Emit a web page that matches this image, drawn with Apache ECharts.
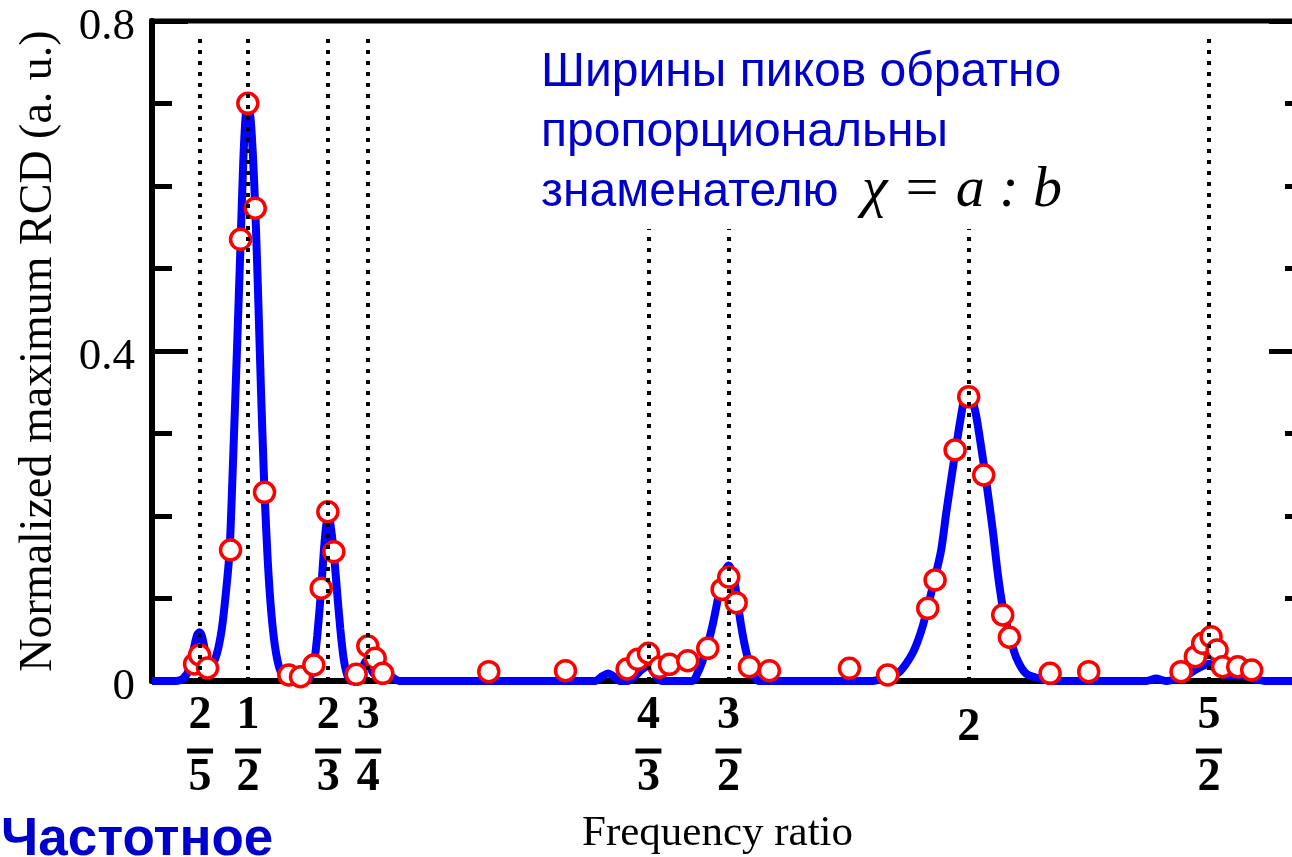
<!DOCTYPE html>
<html><head><meta charset="utf-8">
<script src="https://cdn.jsdelivr.net/npm/echarts@6/dist/echarts.min.js"></script>
<style>html,body{margin:0;padding:0;background:#fff}#c{width:1292px;height:857px}</style>
</head><body><div id="c"></div>
<script>
// theoretical curve (frequency ratio, normalized RCD)
const curveX = [0.30,0.35,0.365,0.378,0.388,0.394,0.399,0.404,0.410,0.417,0.425,0.435,0.445,0.4535,0.4614,0.468,0.475,0.480,0.4843,0.490,0.495,0.4995,0.505,0.510,0.5149,0.520,0.527,0.534,0.541,0.548,0.556,0.565,0.575,0.585,
  0.620,0.630,0.637,0.644,0.652,0.658,0.664,0.667,0.671,0.6785,0.685,0.692,0.699,0.706,0.714,
  0.728,0.737,0.745,0.752,0.760,0.772,0.790,0.802,0.815,
  1.222,1.238,1.249,1.260,1.274,1.29,1.305,1.320,1.333,1.343,1.352,1.362,
  1.425,1.436,1.4464,1.457,1.467,1.481,1.491,1.5005,1.509,1.516,1.526,1.537,1.55,1.564,
  1.80,1.828,1.8556,1.8834,1.904,1.925,1.9425,1.953,1.9634,1.9738,1.9842,1.991,1.998,2.006,2.0154,2.0258,2.036,2.05,2.0603,2.0708,2.0847,2.0986,2.1195,2.154,2.18,
  2.37,2.39,2.41,2.43,2.452,2.473,2.501,2.515,2.5356,2.563,2.598,2.62,2.70];
const curveY = [0,0,0.003,0.015,0.042,0.056,0.059,0.054,0.038,0.022,0.020,0.033,0.062,0.105,0.157,0.255,0.370,0.455,0.530,0.630,0.685,0.700,0.683,0.638,0.573,0.485,0.350,0.232,0.145,0.085,0.042,0.016,0.004,0,
  0,0.006,0.020,0.055,0.110,0.160,0.195,0.201,0.192,0.155,0.110,0.063,0.027,0.008,0,
  0,0.012,0.024,0.020,0.010,0.007,0.008,0.004,0,
  0,0.006,0.009,0.006,0,0,0.006,0.014,0.019,0.012,0.004,0,
  0,0.010,0.025,0.045,0.068,0.108,0.132,0.140,0.130,0.108,0.068,0.035,0.010,0,
  0,0.005,0.011,0.034,0.066,0.114,0.158,0.203,0.244,0.284,0.322,0.342,0.347,0.342,0.322,0.284,0.244,0.183,0.131,0.090,0.056,0.029,0.009,0.002,0,
  0,0.003,0,0.002,0.006,0.014,0.021,0.013,0.007,0.007,0.002,0,0];
// measured points
const pointX = [0.3886,0.399,0.4156, 0.4635,0.4843,0.4995,0.5149,0.5342,
  0.5848,0.6092,0.6368,0.6522,0.666,0.6785, 0.7251,0.7492,0.7646,0.7804,
  1.001,1.1607,1.289,1.3112,1.3334,1.3563,1.3771,1.4152,1.4568,1.4868,1.5005,1.516,1.5435,1.5851,
  1.7517,1.8314,1.9147,1.930,1.9717,2.0,2.0312,2.0708,2.0847,2.1694,2.2498,
  2.442,2.4718,2.487,2.5045,2.517,2.5286,2.56,2.589];
const pointY = [0.0206,0.0315,0.0158, 0.1588,0.5354,0.7002,0.573,0.2287,
  0.0073,0.0052,0.0194,0.1124,0.2052,0.1567, 0.0081,0.0424,0.0275,0.0093,
  0.0113,0.0125,0.0145,0.0263,0.0336,0.0166,0.0202,0.0246,0.0396,0.111,0.126,0.095,0.0173,0.0125,
  0.0154,0.0073,0.0881,0.1224,0.28,0.3446,0.2497,0.08,0.053,0.0093,0.0113,
  0.0113,0.0295,0.0457,0.0537,0.0376,0.0173,0.0173,0.0133];
// rational frequency ratios a:b
const ratioValues = [0.4, 0.5, 2/3, 0.75, 4/3, 1.5, 2, 2.5];
const ratioNum = ['2','1','2','3','4','3','2','5'];
const ratioDen = ['5','2','3','4','3','2','','2'];
const guideTop = [0.785,0.785,0.785,0.785,0.548,0.548,0.548,0.785];
const yTickLabels = ['0','0.4','0.8'];

const serif = "'Liberation Serif','Times New Roman',serif";
const sans = "'Liberation Sans',Arial,sans-serif";
const chart = echarts.init(document.getElementById('c'), null, {renderer:'canvas'});
const curve = curveX.map((x,i)=>[x, curveY[i]]);
const pts = pointX.map((x,i)=>[x, pointY[i]]);
const guides = ratioValues.map((x,i)=>[{coord:[x,0]},{coord:[x,guideTop[i]]}]);

function yAxisCfg(pos, showLabel){
  return {
    type:'value', position:pos, min:0, max:0.8, interval:0.4,
    axisLine:{show:true, lineStyle:{color:'#000', width:6}},
    axisTick:{show:true, inside:true, length:36, lineStyle:{color:'#000', width:5}},
    minorTick:{show:true, splitNumber:4, length:20, lineStyle:{color:'#000', width:5}},
    splitLine:{show:false}, minorSplitLine:{show:false},
    axisLabel:{show:showLabel, fontFamily:serif, fontSize:45, color:'#000', margin:17,
      verticalAlign:'top', lineHeight:12,
      formatter:(v)=>yTickLabels[Math.round(v/0.4)]},
    name: showLabel ? 'Normalized maximum RCD (a. u.)' : '',
    nameLocation:'middle', nameGap:90,
    nameTextStyle:{fontFamily:serif, fontSize:46, color:'#000'}
  };
}

chart.setOption({
  animation:false,
  backgroundColor:'#fff',
  grid:{left:152, top:21, width:1153, height:660, show:true, borderColor:'#000', borderWidth:5,
    backgroundColor:'transparent', outerBoundsMode:'none', containLabel:false},
  xAxis:{
    type:'value', min:0.3, max:2.7,
    axisLine:{show:true, lineStyle:{color:'#000', width:6}},
    axisTick:{show:false}, splitLine:{show:false},
    axisLabel:{
      show:true, customValues:ratioValues, margin:10, color:'#000',
      formatter:(v)=>{
        const i = ratioValues.findIndex(r=>Math.abs(r-v)<1e-6);
        if(i<0) return '';
        return ratioDen[i] ? '{n|'+ratioNum[i]+'}\n{bar|\u00a0}\n{d|'+ratioDen[i]+'}' : '{w|'+ratioNum[i]+'}';
      },
      rich:{
        n:{fontFamily:serif, fontSize:46, fontWeight:'bold', color:'#000', lineHeight:50, align:'center'},
        bar:{width:26, height:5, fontSize:4, lineHeight:20, backgroundColor:'#000', color:'transparent', align:'center'},
        d:{fontFamily:serif, fontSize:46, fontWeight:'bold', color:'#000', lineHeight:34, align:'center'},
        w:{fontFamily:serif, fontSize:46, fontWeight:'bold', color:'#000', lineHeight:74, align:'center'}
      }
    },
    name:'Frequency ratio', nameLocation:'middle', nameGap:131,
    nameTextStyle:{fontFamily:serif, fontSize:43, color:'#000', padding:[0,22,0,0]}
  },
  yAxis:[yAxisCfg('left', true), yAxisCfg('right', false)],
  series:[
    {type:'line', data:[], z:1, silent:true,
      markLine:{silent:true, symbol:['none','none'], label:{show:false},
        lineStyle:{color:'#000', width:4, type:[4,7]}, data:guides}},
    {type:'line', data:curve, z:2, smooth:0.25, showSymbol:false, symbol:'none',
      lineStyle:{color:'#0000ff', width:8}},
    {type:'scatter', data:pts, z:3, symbol:'circle', symbolSize:20,
      itemStyle:{color:'#ffffff', borderColor:'#ff0000', borderWidth:3.5, opacity:1}}
  ],
  graphic:[
    {type:'text', left:541, top:43, z:10, style:{text:'Ширины пиков обратно\nпропорциональны\nзнаменателю', fill:'#0000cc', font:'48px '+sans, lineHeight:60}},
    {type:'text', left:862, top:162, z:10, style:{text:'χ = a : b', fill:'#000', font:'italic 58px '+serif}},
    {type:'text', left:1, top:814, z:10, style:{text:'Частотное', fill:'#0000cc', font:'bold 53px '+sans}}
  ]
});
</script></body></html>
